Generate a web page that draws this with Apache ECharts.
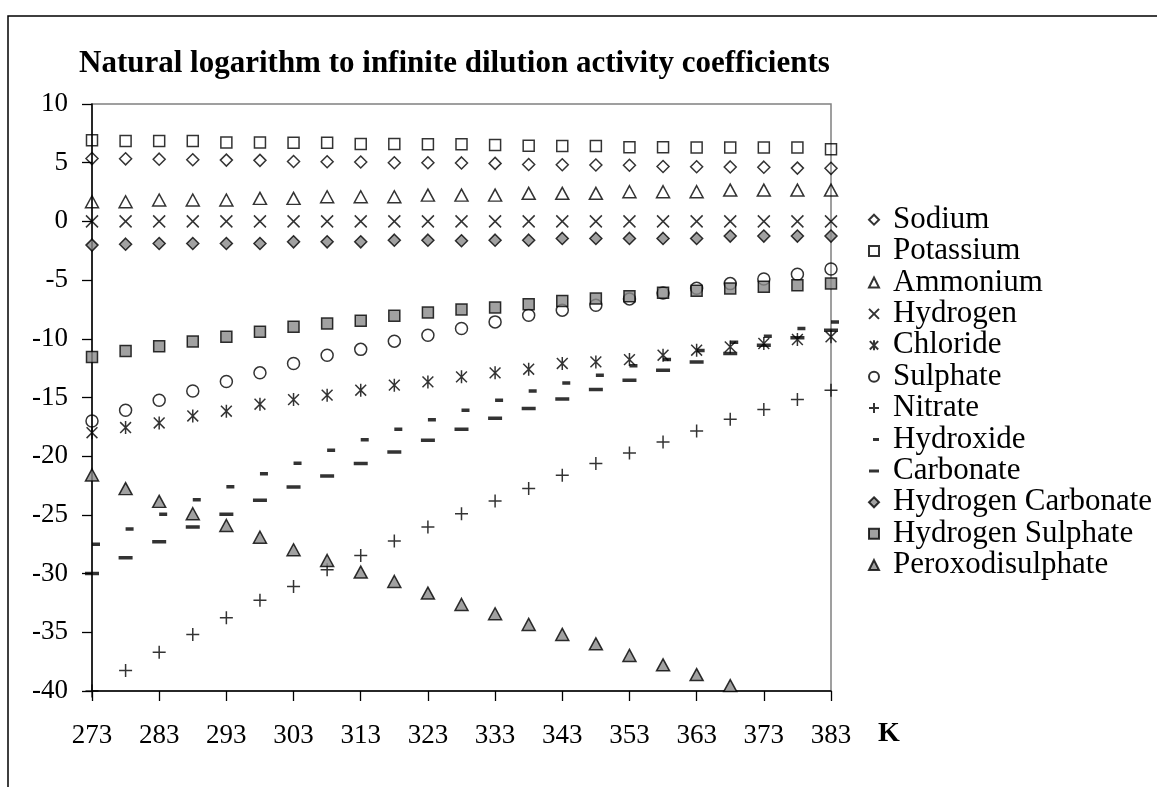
<!DOCTYPE html>
<html>
<head>
<meta charset="utf-8">
<script src="https://cdn.jsdelivr.net/npm/echarts@6/dist/echarts.min.js"></script>
<style>
  html, body { margin: 0; padding: 0; background: #fff; }
  #chart { width: 1157px; height: 787px; }
</style>
</head>
<body>
<div id="chart"></div>
<script>
// temperatures, K (one point every 5 K)
var temps = ['273','278','283','288','293','298','303','308','313','318','323','328',
  '333','338','343','348','353','358','363','368','373','378','383'];

var sodium = [5.35,5.33,5.3,5.25,5.22,5.2,5.1,5.08,5.06,5.0,5.0,4.98,4.94,4.85,4.82,4.8,4.78,4.68,4.66,4.64,4.62,4.54,4.52];
var potassium = [6.92,6.85,6.85,6.85,6.72,6.72,6.7,6.7,6.6,6.6,6.58,6.58,6.5,6.45,6.42,6.42,6.32,6.32,6.3,6.3,6.3,6.3,6.15];
var ammonium = [1.67,1.67,1.82,1.82,1.82,1.96,1.96,2.1,2.1,2.1,2.24,2.24,2.24,2.39,2.39,2.39,2.53,2.53,2.53,2.67,2.67,2.67,2.67];
var hydrogen = [0,0,0,0,0,0,0,0,0,0,0,0,0,0,0,0,0,0,0,0,0,0,0];
var chloride = [-18.0,-17.56,-17.17,-16.57,-16.17,-15.57,-15.18,-14.8,-14.38,-13.95,-13.67,-13.24,-12.9,-12.59,-12.1,-11.97,-11.77,-11.4,-10.97,-10.69,-10.4,-10.06,-9.83];
var sulphate = [-17.0,-16.09,-15.23,-14.44,-13.64,-12.9,-12.1,-11.4,-10.9,-10.2,-9.7,-9.12,-8.56,-7.99,-7.56,-7.14,-6.6,-6.1,-5.7,-5.3,-4.9,-4.5,-4.05];
var nitrate = [-40.0,-38.25,-36.7,-35.18,-33.76,-32.28,-31.09,-29.67,-28.45,-27.23,-26.03,-24.9,-23.82,-22.76,-21.63,-20.63,-19.72,-18.79,-17.85,-16.85,-16.03,-15.18,-14.38];
var hydroxide = [-27.5,-26.2,-24.95,-23.7,-22.6,-21.5,-20.6,-19.5,-18.6,-17.7,-16.9,-16.09,-15.23,-14.44,-13.76,-13.1,-12.3,-11.77,-11.0,-10.3,-9.78,-9.12,-8.56];
var carbonate = [-30.0,-28.65,-27.28,-26.03,-24.95,-23.76,-22.62,-21.68,-20.63,-19.64,-18.65,-17.7,-16.77,-15.94,-15.12,-14.32,-13.53,-12.68,-11.97,-11.25,-10.55,-9.9,-9.27];
var hCarbonate = [-2.02,-1.94,-1.88,-1.88,-1.88,-1.88,-1.74,-1.74,-1.74,-1.6,-1.6,-1.65,-1.6,-1.6,-1.45,-1.45,-1.45,-1.45,-1.45,-1.25,-1.25,-1.25,-1.25];
var hSulphate = [-11.54,-11.03,-10.63,-10.23,-9.83,-9.41,-8.98,-8.7,-8.47,-8.04,-7.76,-7.5,-7.33,-7.05,-6.77,-6.57,-6.37,-6.08,-5.91,-5.71,-5.57,-5.43,-5.29];
var peroxo = [-21.6,-22.76,-23.85,-24.9,-25.9,-26.9,-27.97,-28.88,-29.87,-30.67,-31.66,-32.63,-33.42,-34.33,-35.18,-35.98,-36.97,-37.77,-38.6,-39.54,null,null,null];

var serif = "'Liberation Serif', 'Times New Roman', serif";
var grey = '#8a8a8a';

var openStyle = { color: 'rgba(0,0,0,0)', borderColor: '#000', borderWidth: 1.5 };
var lineStyle = { color: '#000', borderColor: '#000', borderWidth: 1.5 };
var greyStyle = { color: grey, borderColor: '#000', borderWidth: 1.5 };
var dashStyle = { color: '#000', borderWidth: 0 };

var crossPath = 'path://M0,0L10,10M10,0L0,10';
var starPath = 'path://M0,0L10,10M10,0L0,10M5,-1L5,11';
var plusPath = 'path://M5,0L5,10M0,5L10,5';
// dashes padded with an unfilled segment so their box is square
var shortDash = 'path://M0,0h8v3.5h-8zM0,-2.25L0,5.75';
var longDash = 'path://M0,0h14v3.5h-14zM0,-5.25L0,8.75';
var shortDashIcon = 'path://M4,0h6v3h-6zM0,-3.5L0,6.5';
var longDashIcon = 'path://M0,0h10v3h-10zM0,-3.5L0,6.5';

function mk(name, data, symbol, size, style, offset) {
  return {
    name: name,
    type: 'scatter',
    data: data,
    symbol: symbol,
    symbolSize: size,
    symbolOffset: offset || [0, 0],
    symbolKeepAspect: true,
    itemStyle: style,
    emphasis: { disabled: true },
    z: 2
  };
}

var names = ['Sodium','Potassium','Ammonium','Hydrogen','Chloride','Sulphate','Nitrate',
  'Hydroxide','Carbonate','Hydrogen Carbonate','Hydrogen Sulphate','Peroxodisulphate'];
var legendData = names.map(function (n) {
  if (n === 'Hydroxide') return { name: n, icon: shortDashIcon };
  if (n === 'Carbonate') return { name: n, icon: longDashIcon };
  return { name: n };
});

var chart = echarts.init(document.getElementById('chart'));
var option = {
  backgroundColor: '#fff',
  animation: false,
  title: {
    text: 'Natural logarithm to infinite dilution activity coefficients',
    left: 74,
    top: 43,
    textStyle: { fontFamily: serif, fontSize: 31, fontWeight: 'bold', color: '#000' }
  },
  legend: {
    orient: 'vertical',
    left: 863,
    top: 199,
    itemGap: 0,
    itemWidth: 10,
    itemHeight: 10,
    data: legendData,
    textStyle: { fontFamily: serif, fontSize: 31, color: '#000', lineHeight: 31.4, padding: [0, 0, 0, 9] }
  },
  grid: {
    left: 92,
    right: 326,
    top: 104,
    bottom: 96,
    show: true,
    borderColor: '#808080',
    borderWidth: 1.5,
    backgroundColor: 'transparent'
  },
  xAxis: {
    type: 'category',
    data: temps,
    boundaryGap: false,
    name: 'K',
    nameLocation: 'end',
    nameGap: 47,
    nameTextStyle: { fontFamily: serif, fontSize: 28, fontWeight: 'bold', color: '#000',
      verticalAlign: 'top', padding: [29, 0, 0, 0] },
    axisLine: { onZero: false, lineStyle: { color: '#000', width: 1.5 } },
    axisTick: { show: true, interval: 1, length: 10, lineStyle: { color: '#000', width: 1.3 } },
    axisLabel: { interval: 1, margin: 31, fontFamily: serif, fontSize: 27, color: '#000' },
    splitLine: { show: false }
  },
  yAxis: {
    type: 'value',
    min: -40,
    max: 10,
    interval: 5,
    axisLine: { show: true, lineStyle: { color: '#000', width: 1.5 } },
    axisTick: { show: true, length: 10, lineStyle: { color: '#000', width: 1.3 } },
    axisLabel: { margin: 24, fontFamily: serif, fontSize: 27, color: '#000' },
    splitLine: { show: false }
  },
  graphic: [{
    type: 'rect',
    shape: { x: 8, y: 16, width: 1200, height: 820 },
    style: { fill: 'none', stroke: '#000', lineWidth: 1.5 },
    silent: true
  }],
  series: [
    mk('Sodium', sodium, 'diamond', 12, openStyle),
    mk('Potassium', potassium, 'rect', 11, openStyle),
    mk('Ammonium', ammonium, 'triangle', [13, 12], openStyle),
    mk('Hydrogen', hydrogen, crossPath, 12, lineStyle),
    mk('Chloride', chloride, starPath, 13, lineStyle),
    mk('Sulphate', sulphate, 'circle', 12, openStyle),
    mk('Nitrate', nitrate, plusPath, 13, lineStyle),
    mk('Hydroxide', hydroxide, shortDash, 8, dashStyle, [4, 0]),
    mk('Carbonate', carbonate, longDash, 14, dashStyle),
    mk('Hydrogen Carbonate', hCarbonate, 'diamond', 12, greyStyle),
    mk('Hydrogen Sulphate', hSulphate, 'rect', 11, greyStyle),
    mk('Peroxodisulphate', peroxo, 'triangle', [13, 12], greyStyle)
  ]
};
chart.setOption(option);
</script>
</body>
</html>
